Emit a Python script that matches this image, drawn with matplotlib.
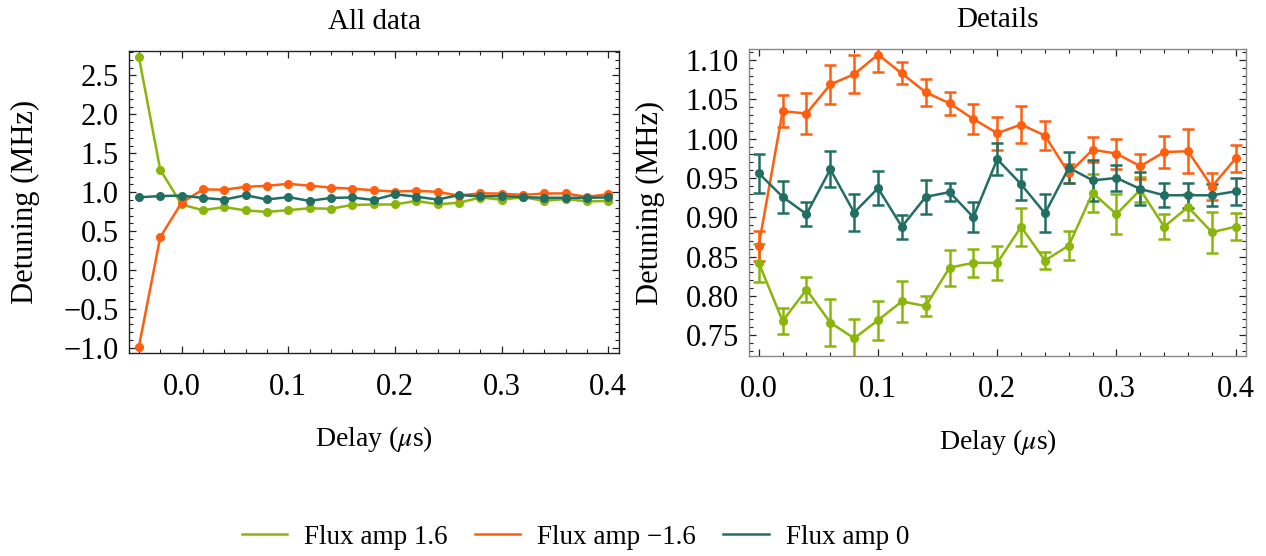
import matplotlib
matplotlib.use("Agg")
import matplotlib.pyplot as plt
from matplotlib.lines import Line2D
from matplotlib.ticker import MultipleLocator, FuncFormatter
import numpy as np

plt.rcParams['font.family'] = ['Liberation Serif', 'DejaVu Serif']
plt.rcParams['mathtext.fontset'] = 'stix'
plt.rcParams['axes.unicode_minus'] = True

# ---- data ----
delay_full = [-0.04, -0.02, 0.00, 0.02, 0.04, 0.06, 0.08, 0.10, 0.12, 0.14, 0.16, 0.18,
              0.20, 0.22, 0.24, 0.26, 0.28, 0.30, 0.32, 0.34, 0.36, 0.38, 0.40]
delay_detail = delay_full[2:]

flux_pos = [2.74, 1.29, 0.842, 0.768, 0.808, 0.766, 0.746, 0.769, 0.793, 0.787, 0.836, 0.842,
            0.842, 0.888, 0.845, 0.864, 0.931, 0.904, 0.935, 0.888, 0.913, 0.881, 0.888]
flux_pos_err = [0.024, 0.016, 0.016, 0.030, 0.025, 0.025, 0.026, 0.013, 0.023, 0.018,
                0.022, 0.024, 0.011, 0.018, 0.024, 0.025, 0.016, 0.016, 0.016, 0.026, 0.017]

flux_neg = [-0.99, 0.42, 0.864, 1.035, 1.032, 1.069, 1.082, 1.107, 1.083, 1.059, 1.045, 1.025,
            1.007, 1.018, 1.004, 0.956, 0.986, 0.981, 0.965, 0.983, 0.984, 0.939, 0.975]
flux_neg_err = [0.019, 0.020, 0.026, 0.025, 0.024, 0.022, 0.014, 0.017, 0.015, 0.019,
                0.021, 0.024, 0.018, 0.012, 0.016, 0.019, 0.016, 0.020, 0.028, 0.017, 0.017]

flux_zero = [0.934, 0.950, 0.956, 0.926, 0.904, 0.961, 0.906, 0.937, 0.888, 0.926, 0.932, 0.900,
             0.974, 0.942, 0.905, 0.963, 0.947, 0.950, 0.936, 0.928, 0.928, 0.928, 0.933]
flux_zero_err = [0.025, 0.020, 0.015, 0.023, 0.023, 0.022, 0.015, 0.022, 0.011, 0.019,
                 0.020, 0.020, 0.024, 0.020, 0.026, 0.016, 0.021, 0.015, 0.016, 0.014, 0.017]

labels = ["Flux amp 1.6", "Flux amp \u22121.6", "Flux amp 0"]
colors = ["#8AB50B", "#FF5E0E", "#236E62"]
x_ticks = [0.0, 0.1, 0.2, 0.3, 0.4]

series_full = [flux_pos, flux_neg, flux_zero]
series_err = [flux_pos_err, flux_neg_err, flux_zero_err]


def fmt(decimals):
    def f(v, pos):
        s = f"{v:.{decimals}f}"
        if s.startswith('-'):
            s = '\u2212' + s[1:]
        if s == '\u2212' + '0' * 1 + '.' + '0' * decimals:
            s = s[1:]
        return s
    return FuncFormatter(f)


TICK_FS = 22
LAB_FS = 21
fig = plt.figure(figsize=(12.66, 5.56), dpi=100)
axL = fig.add_axes([0.1021, 0.3646, 0.3868, 0.5437])
axR = fig.add_axes([0.5919, 0.3597, 0.3921, 0.5516])

for ys, c in zip(series_full, colors):
    axL.plot(delay_full, ys, color=c, lw=1.8, marker='o', ms=5.5, mec=c, mfc=c)

for ys, es, c in zip(series_full, series_err, colors):
    axR.errorbar(delay_detail, ys[2:], yerr=es, color=c, lw=1.8, marker='o', ms=5.5,
                 elinewidth=1.8, capsize=4.5, capthick=1.8)

axL.set_xlim(-0.049, 0.410)
axL.set_ylim(-1.071, 2.815)
axL.yaxis.set_major_locator(MultipleLocator(0.5))
axL.yaxis.set_minor_locator(MultipleLocator(0.1))
axL.yaxis.set_major_formatter(fmt(1))
axR.set_xlim(-0.0079, 0.4084)
axR.set_ylim(0.7235, 1.1137)
axR.yaxis.set_major_locator(MultipleLocator(0.05))
axR.yaxis.set_minor_locator(MultipleLocator(0.01))
axR.yaxis.set_major_formatter(fmt(2))

for ax, spcol, ylp in ((axL, '#222222', 17), (axR, '#888888', 15)):
    ax.set_xticks(x_ticks)
    ax.xaxis.set_major_formatter(fmt(1))
    ax.xaxis.set_minor_locator(MultipleLocator(0.02))
    ax.tick_params(which='both', direction='in', top=True, right=True, labelsize=TICK_FS,
                   color='#222222')
    ax.tick_params(which='major', length=5, width=0.9)
    ax.tick_params(which='minor', length=3, width=0.8)
    ax.tick_params(axis='x', which='major', pad=14)
    ax.tick_params(axis='y', which='major', pad=7.5)
    for s in ax.spines.values():
        s.set_color(spcol)
        s.set_linewidth(1.0)
    ax.set_xlabel("Delay ($\\mu$s)", fontsize=20, labelpad=16)
    ax.set_ylabel("Detuning (MHz)", fontsize=22, labelpad=ylp)

axL.set_title("All data", fontsize=LAB_FS, pad=16)
axR.set_title("Details", fontsize=LAB_FS, pad=16)

handles = [Line2D([], [], color=c, lw=1.8) for c in colors]
fig.legend(handles, labels, loc='center', bbox_to_anchor=(0.4546, 0.034), ncol=3,
           frameon=False, fontsize=19.5, handlelength=1.67, columnspacing=1.0,
           handletextpad=0.63)

fig.savefig("out.png", dpi=100)
